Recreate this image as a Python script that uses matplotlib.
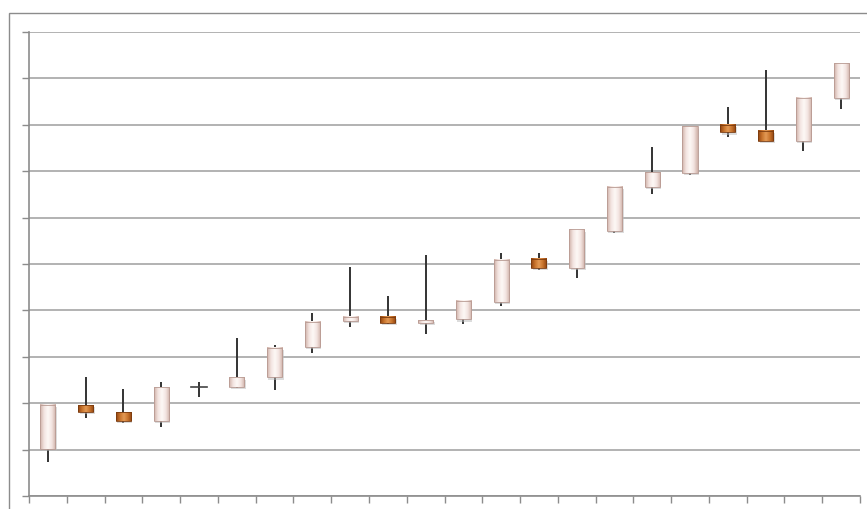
import numpy as np
import matplotlib
matplotlib.use("Agg")
import matplotlib.pyplot as plt
from matplotlib.colors import LinearSegmentedColormap
from matplotlib.patches import Rectangle

# candle data (grid units 0..10)
opens = [1.01, 1.96, 1.81, 1.62, 2.35, 2.35, 2.56, 3.21, 3.77, 3.86, 3.73,
         3.81, 4.18, 5.11, 4.91, 5.71, 6.66, 6.96, 8.00, 7.87, 7.65, 8.58]
closes = [1.96, 1.81, 1.62, 2.35, 2.35, 2.56, 3.19, 3.75, 3.86, 3.73, 3.79,
          4.20, 5.09, 4.91, 5.75, 6.66, 6.98, 7.97, 7.84, 7.65, 8.58, 9.33]
highs = [1.96, 2.56, 2.31, 2.46, 2.46, 3.41, 3.25, 3.94, 4.94, 4.31, 5.19,
         4.20, 5.24, 5.24, 5.75, 6.66, 7.52, 7.97, 8.38, 9.18, 8.58, 9.33]
lows = [0.73, 1.68, 1.57, 1.49, 2.13, 2.33, 2.28, 3.08, 3.64, 3.71, 3.49,
        3.71, 4.09, 4.87, 4.70, 5.67, 6.51, 6.92, 7.74, 7.65, 7.44, 8.34]

W, H = 867, 509
fig = plt.figure(figsize=(W / 100, H / 100), dpi=100)

# outer chart frame (right/bottom cut off in the reference)
fig.patches.append(Rectangle((9 / W, -0.1), 1.2, (H - 13) / H + 0.1,
                             transform=fig.transFigure, fill=False,
                             edgecolor="#8c8c8c", linewidth=1.0))

ax = fig.add_axes([29 / W, 13 / H, (860 - 29) / W, (496 - 32) / H])
n = len(opens)
ax.set_xlim(0, n)
ax.set_ylim(0, 10)

ax.set_yticks(np.arange(0, 11))
ax.set_xticks(np.arange(0, n + 1))
ax.set_yticklabels([])
ax.set_xticklabels([])
ax.grid(axis="y", color="#a6a6a6", linewidth=1.2)
ax.set_axisbelow(True)
ax.tick_params(axis="both", direction="out", length=5, width=1, color="#8c8c8c")
for side in ["top", "right"]:
    ax.spines[side].set_visible(False)
for side in ["left", "bottom"]:
    ax.spines[side].set_color("#8c8c8c")
    ax.spines[side].set_linewidth(1.2)

up_cmap = LinearSegmentedColormap.from_list("up", ["#cfb1a8", "#f3e4e0", "#fdf8f6", "#f3e4e0", "#cfb1a8"])
dn_cmap = LinearSegmentedColormap.from_list("dn", ["#8f4310", "#c8732c", "#e39a55", "#c8732c", "#8f4310"])
grad = np.linspace(0, 1, 64).reshape(1, -1)

bw = 0.4
for i in range(n):
    xc = i + 0.5
    o, c, hi, lo = opens[i], closes[i], highs[i], lows[i]
    ax.plot([xc, xc], [lo, hi], color="#333333", linewidth=1.4, zorder=3, solid_capstyle="butt")
    bot, top = min(o, c), max(o, c)
    if top - bot < 0.02:
        ax.plot([xc - bw / 2, xc + bw / 2], [o, o], color="#444444", linewidth=1.2, zorder=4)
        continue
    cmap = up_cmap if c >= o else dn_cmap
    # soft shadow
    ax.add_patch(Rectangle((xc - bw / 2 + 0.04, bot - 0.05), bw, top - bot,
                           facecolor="#bbbbbb", edgecolor="none", alpha=0.5, zorder=3.5))
    ax.imshow(grad, cmap=cmap, extent=[xc - bw / 2, xc + bw / 2, bot, top],
              aspect="auto", zorder=4, interpolation="bilinear")
    ax.add_patch(Rectangle((xc - bw / 2, bot), bw, top - bot, fill=False,
                           edgecolor="#b89a92" if c >= o else "#7a3a0e",
                           linewidth=0.6, zorder=5))

ax.set_xlim(0, n)
ax.set_ylim(0, 10)

fig.savefig("out.png", dpi=100)
